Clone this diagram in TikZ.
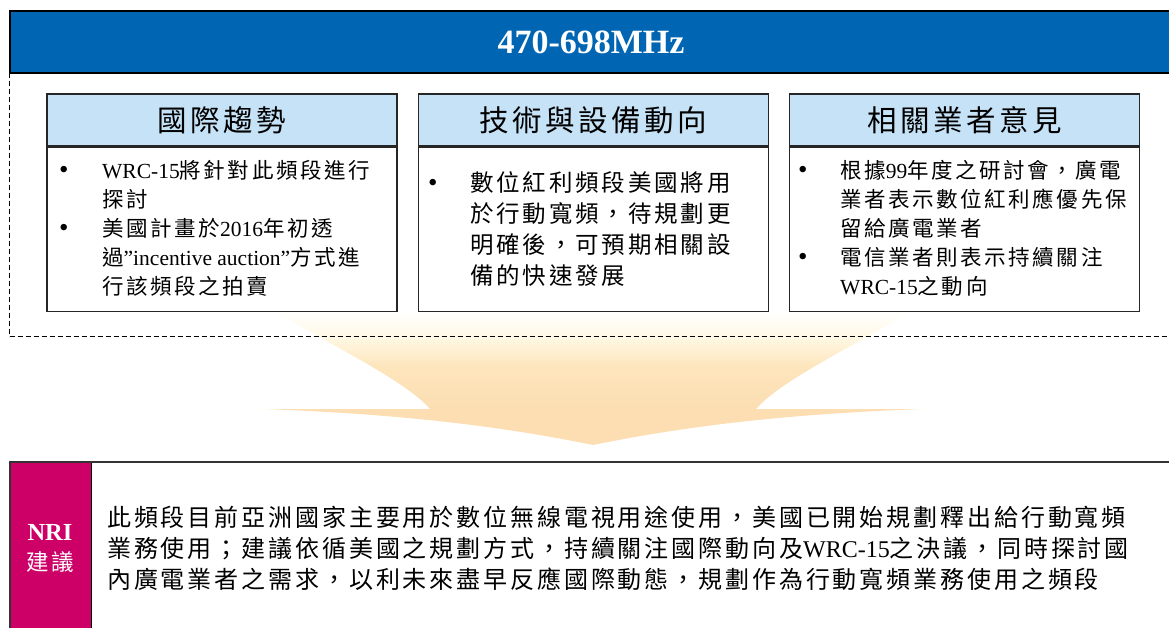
\documentclass[tikz,border=0pt]{standalone}
\usepackage{fontspec}
\setmainfont{Noto Sans CJK TC}[LetterSpace=12]
\newfontfamily\latinfont{Liberation Serif}
\newcommand{\eng}[1]{{\latinfont #1}}
\newcommand{\dotitem}{{\latinfont\fontsize{27}{27}\selectfont\textbullet}}
\usepackage{tikz}
\usetikzlibrary{positioning}

\definecolor{bandblue}{RGB}{0,102,179}
\definecolor{headblue}{RGB}{198,226,247}
\definecolor{nrired}{RGB}{204,0,102}
\definecolor{arrowpale}{RGB}{255,248,228}
\definecolor{arrowmid}{RGB}{253,229,188}
\definecolor{arrowbottom}{RGB}{252,222,178}
\pgfdeclareverticalshading{funnel}{100bp}{color(0bp)=(arrowbottom); color(38bp)=(arrowbottom); color(52bp)=(arrowmid); color(62bp)=(arrowpale); color(71bp)=(white); color(100bp)=(white)}

\begin{document}
\begin{tikzpicture}[
    x=1pt, y=-1pt,
    titlebar/.style={rectangle, draw=black, line width=2pt, fill=bandblue, minimum width=1180pt, minimum height=62pt, inner sep=0pt},
    dashframe/.style={rectangle, draw=black, line width=1.1pt, dash pattern=on 5pt off 3pt, minimum width=1180pt, minimum height=264pt, inner sep=0pt},
    headbox/.style={rectangle, draw=black!85, line width=1.3pt, fill=headblue, minimum width=350pt, minimum height=52pt, inner sep=0pt, font=\fontsize{29.5}{29.5}\selectfont},
    bodybox/.style={rectangle, draw=black!85, line width=1.3pt, fill=white, minimum width=350pt, minimum height=164pt, inner sep=0pt},
    itemlist/.style={anchor=north west, inner sep=0pt, font=\fontsize{21.5}{29}\selectfont},
    advicebox/.style={rectangle, draw=black!80, line width=2pt, minimum width=1180pt, minimum height=180pt, inner sep=0pt},
    nribox/.style={rectangle, draw=black, line width=1.2pt, fill=nrired, minimum width=82pt, minimum height=180pt, inner sep=0pt}
]
\useasboundingbox (0,0) rectangle (1169,628);
\clip (0,0) rectangle (1169,628);

% funnel arrow behind the frame
\shade[shading=funnel]
    (255,300) .. controls (330,345) and (405,380) .. (430,409) -- (263,409)
    .. controls (400,414) and (500,426) .. (593,445)
    .. controls (686,426) and (786,414) .. (923,409) -- (756,409)
    .. controls (781,380) and (856,345) .. (931,300) -- cycle;

\node[dashframe, anchor=north west] (frame) at (9,72) {};

% three columns
\node[headbox] (trendhead) at (222,120) {國際趨勢};
\node[headbox, right=20pt of trendhead] (techhead) {技術與設備動向};
\node[headbox, right=20pt of techhead] (viewhead) {相關業者意見};
\node[bodybox, below=0pt of trendhead] (trendbody) {};
\node[bodybox, below=0pt of techhead] (techbody) {};
\node[bodybox, below=0pt of viewhead] (viewbody) {};

\node[itemlist] (trendlist) at (59,158) {\begin{tabular}{@{}p{43pt}@{}l@{}}
\dotitem & \eng{WRC-15}將針對此頻段進行\\
 & 探討\\
\dotitem & 美國計畫於\eng{2016}年初透\\
 & 過\eng{”incentive auction”}方式進\\
 & 行該頻段之拍賣
\end{tabular}};
\node[itemlist, font=\fontsize{23.5}{31}\selectfont] (techlist) at (428,170) {\begin{tabular}{@{}p{42pt}@{}l@{}}
\dotitem & 數位紅利頻段美國將用\\
 & 於行動寬頻，待規劃更\\
 & 明確後，可預期相關設\\
 & 備的快速發展
\end{tabular}};
\node[itemlist] (viewlist) at (798,158) {\begin{tabular}{@{}p{42pt}@{}l@{}}
\dotitem & 根據\eng{99}年度之研討會，廣電\\
 & 業者表示數位紅利應優先保\\
 & 留給廣電業者\\
\dotitem & 電信業者則表示持續關注\\
 & \eng{WRC-15}之動向
\end{tabular}};

% title band
\node[titlebar, anchor=north west] (band) at (9,10) {};
\node[text=white, font=\latinfont\bfseries\fontsize{34}{34}\selectfont] (title) at (591,42) {470-698MHz};

% recommendation
\node[nribox, anchor=north west] (nri) at (9,461) {};
\node[advicebox, anchor=north west] (advice) at (9,461) {};
\node[anchor=north, align=center, text=white, inner sep=0pt, font=\fontsize{22.5}{30}\selectfont] (nrilabel) at (50,524) {{\latinfont\bfseries\fontsize{24.5}{30}\selectfont NRI}\\建議};
\node[itemlist, font=\fontsize{24}{31}\selectfont] (advicetext) at (107,505) {\begin{tabular}{@{}l@{}}
此頻段目前亞洲國家主要用於數位無線電視用途使用，美國已開始規劃釋出給行動寬頻\\
業務使用；建議依循美國之規劃方式，持續關注國際動向及\eng{WRC-15}之決議，同時探討國\\
內廣電業者之需求，以利未來盡早反應國際動態，規劃作為行動寬頻業務使用之頻段
\end{tabular}};

\end{tikzpicture}
\end{document}
